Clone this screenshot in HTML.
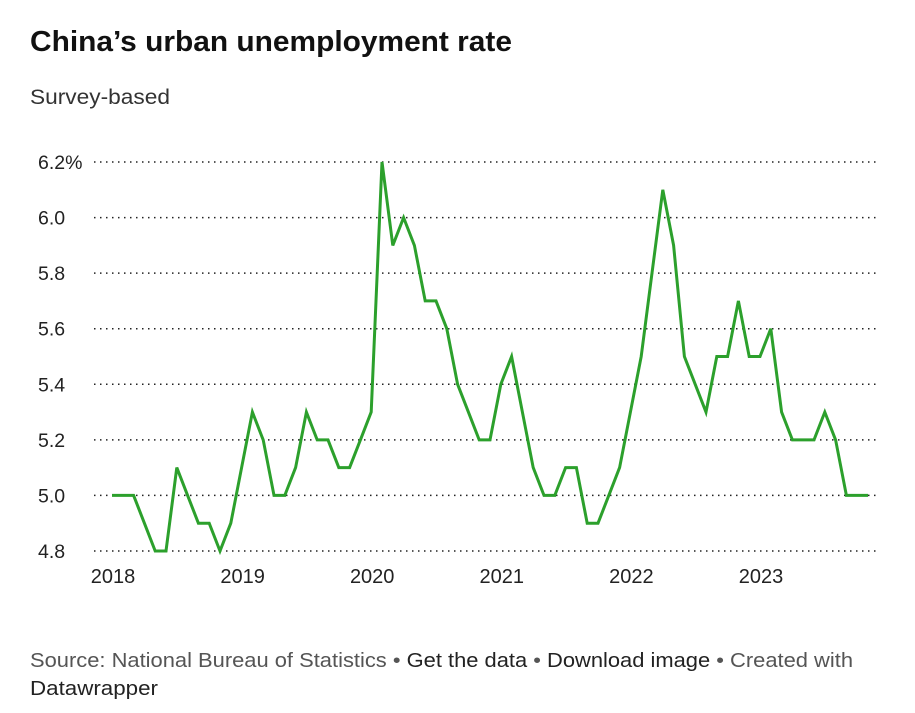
<!DOCTYPE html>
<html><head><meta charset="utf-8"><style>
html,body{margin:0;padding:0;background:#fff;}
svg{display:block;font-family:"Liberation Sans",sans-serif;}
</style></head><body>
<svg id="chart" width="915" height="713" viewBox="0 0 915 713">
<text x="30" y="51" font-size="29" font-weight="bold" fill="#111" textLength="482" lengthAdjust="spacingAndGlyphs">China’s urban unemployment rate</text>
<text x="30" y="104" font-size="21" fill="#333" textLength="140" lengthAdjust="spacingAndGlyphs">Survey-based</text>
<g id="grid"></g>
<g id="yticks"></g>
<g id="xticks"></g>
<path id="line" fill="none" stroke="#2ca02c" stroke-width="3" stroke-linejoin="miter"></path>
<text x="30" y="667" font-size="20" fill="#555" textLength="823" lengthAdjust="spacingAndGlyphs">Source: National Bureau of Statistics • <tspan fill="#222">Get the data</tspan> • <tspan fill="#222">Download image</tspan> • Created with</text>
<text x="30" y="695" font-size="20" fill="#222" textLength="128" lengthAdjust="spacingAndGlyphs">Datawrapper</text>
</svg>
<script>
const startYear = 2018;
const values = [5.0,5.0,5.0,4.9,4.8,4.8,5.1,5.0,4.9,4.9,4.8,4.9,
5.1,5.3,5.2,5.0,5.0,5.1,5.3,5.2,5.2,5.1,5.1,5.2,
5.3,6.2,5.9,6.0,5.9,5.7,5.7,5.6,5.4,5.3,5.2,5.2,
5.4,5.5,5.3,5.1,5.0,5.0,5.1,5.1,4.9,4.9,5.0,5.1,
5.3,5.5,5.8,6.1,5.9,5.5,5.4,5.3,5.5,5.5,5.7,5.5,
5.5,5.6,5.3,5.2,5.2,5.2,5.3,5.2,5.0,5.0,5.0];
const yTicks = [4.8,5.0,5.2,5.4,5.6,5.8,6.0,6.2];
const yTickLabels = ["4.8","5.0","5.2","5.4","5.6","5.8","6.0","6.2%"];
const xTicks = [2018,2019,2020,2021,2022,2023];

const NS = "http://www.w3.org/2000/svg";
const y = v => 551 - (v - 4.8) / 1.4 * 389;
const x = monthIdx => 112 + monthIdx * 10.8;

const grid = document.getElementById('grid');
const yt = document.getElementById('yticks');
yTicks.forEach((v, i) => {
  const l = document.createElementNS(NS, 'line');
  l.setAttribute('x1', 94); l.setAttribute('x2', 880);
  l.setAttribute('y1', y(v)); l.setAttribute('y2', y(v));
  l.setAttribute('stroke', '#222'); l.setAttribute('stroke-width', '1.5');
  l.setAttribute('stroke-dasharray', '1.5 4.5');
  
  
  grid.appendChild(l);
  const t = document.createElementNS(NS, 'text');
  t.setAttribute('x', 38); t.setAttribute('y', y(v) + 7);
  t.setAttribute('font-size', '19.5'); t.setAttribute('fill', '#222');
  t.textContent = yTickLabels[i];
  
  
  yt.appendChild(t);
});
const xt = document.getElementById('xticks');
xTicks.forEach(yr => {
  const t = document.createElementNS(NS, 'text');
  t.setAttribute('x', x((yr - startYear) * 12) + 1);
  t.setAttribute('y', 583);
  t.setAttribute('font-size', '20'); t.setAttribute('fill', '#222');
  t.setAttribute('text-anchor', 'middle');
  t.textContent = yr;
  
  
  xt.appendChild(t);
});
document.getElementById('line').setAttribute('d',
  values.map((v, i) => (i ? 'L' : 'M') + x(i).toFixed(1) + ',' + y(v).toFixed(1)).join(''));
</script>
</body></html>
